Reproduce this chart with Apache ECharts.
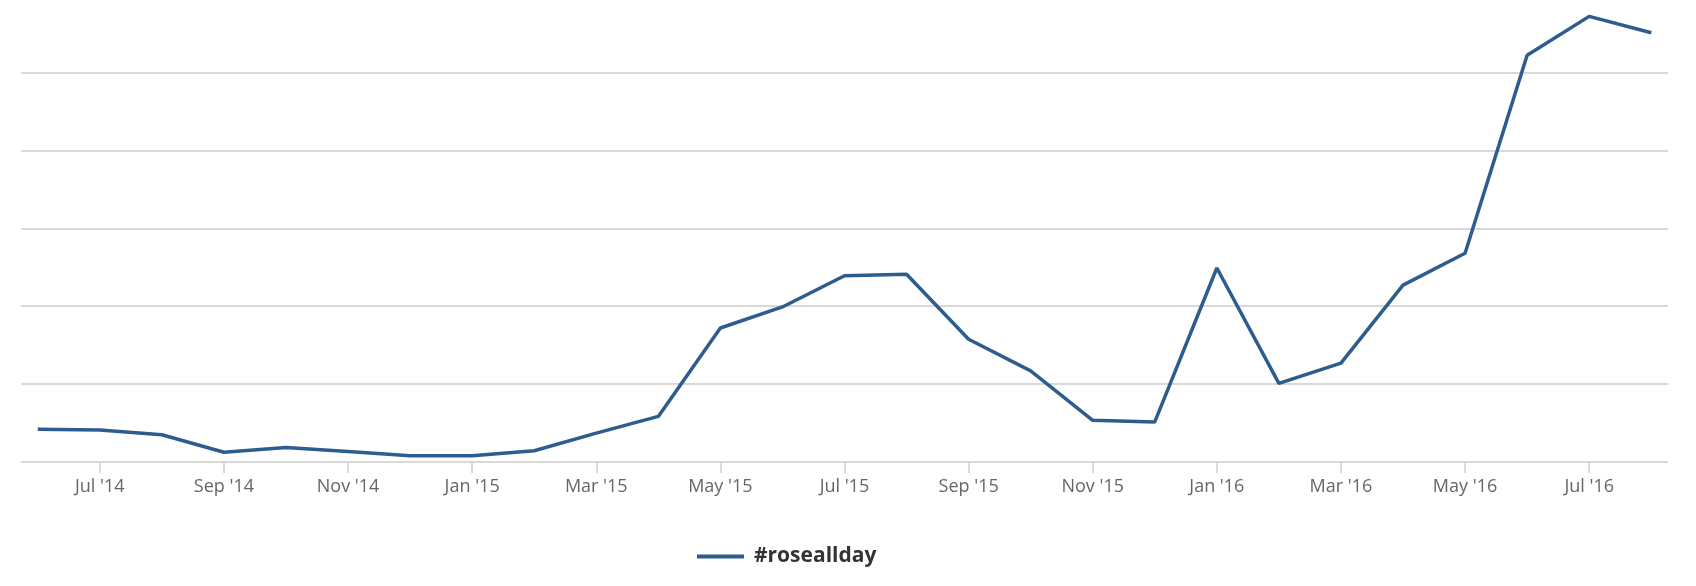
<!DOCTYPE html>
<html>
<head>
<meta charset="utf-8">
<script src="https://cdn.jsdelivr.net/npm/echarts@6/dist/echarts.min.js"></script>
<style>
  html, body { margin: 0; padding: 0; background: #fff; }
  #chart { width: 1696px; height: 586px; }
</style>
</head>
<body>
<div id="chart"></div>
<script>
// months shown on the x axis (one point per month)
const months = [
  "Jun '14", "Jul '14", "Aug '14", "Sep '14", "Oct '14", "Nov '14", "Dec '14",
  "Jan '15", "Feb '15", "Mar '15", "Apr '15", "May '15", "Jun '15", "Jul '15",
  "Aug '15", "Sep '15", "Oct '15", "Nov '15", "Dec '15", "Jan '16", "Feb '16",
  "Mar '16", "Apr '16", "May '16", "Jun '16", "Jul '16", "Aug '16"
];
// #roseallday (one grid step = 10)
const roseallday = [
  4.2, 4.1, 3.5, 1.25, 1.85, 1.35, 0.8,
  0.8, 1.45, 3.7, 5.85, 17.2, 19.9, 23.9,
  24.1, 15.75, 11.7, 5.35, 5.15, 24.9, 10.1,
  12.7, 22.7, 26.8, 52.2, 57.2, 55.1
];
// every second month gets a label
const labelIdx = [1, 3, 5, 7, 9, 11, 13, 15, 17, 19, 21, 23, 25];

const chart = echarts.init(document.getElementById('chart'));
chart.setOption({
  animation: false,
  grid: {
    left: 21,
    right: 28,
    top: 0,
    bottom: 124,
  },
  legend: {
    left: 692,
    top: 541,
    icon: 'rect',
    itemWidth: 47,
    itemHeight: 4,
    textStyle: {
      fontFamily: 'Open Sans',
      fontWeight: 'bold',
      fontSize: 21,
      color: '#333',
      padding: [0, 0, 0, 5],
    },
    data: ['#roseallday'],
  },
  xAxis: {
    type: 'value',
    min: -0.27,
    max: 26.27,
    axisLine: {show: false},
    splitLine: {show: false},
    axisTick: {
      show: true,
      customValues: labelIdx,
      length: 11,
      lineStyle: {color: '#c8d2dc', width: 1.5},
    },
    axisLabel: {
      customValues: labelIdx,
      margin: 16,
      fontFamily: 'Open Sans',
      fontSize: 18,
      color: '#666',
      formatter: (v) => months[Math.round(v)],
    },
  },
  yAxis: {
    type: 'value',
    min: 0,
    max: 59.3,
    interval: 10,
    axisLine: {show: false},
    axisTick: {show: false},
    axisLabel: {show: false},
    splitLine: {
      showMaxLine: false,
      lineStyle: {color: '#d9d9d9', width: 2},
    },
  },
  series: [{
    name: '#roseallday',
    type: 'line',
    data: roseallday.map((v, i) => [i, v]),
    showSymbol: false,
    symbol: 'none',
    color: '#2d5c8e',
    lineStyle: {width: 3.5, color: '#2d5c8e'},
  }],
});
</script>
</body>
</html>
